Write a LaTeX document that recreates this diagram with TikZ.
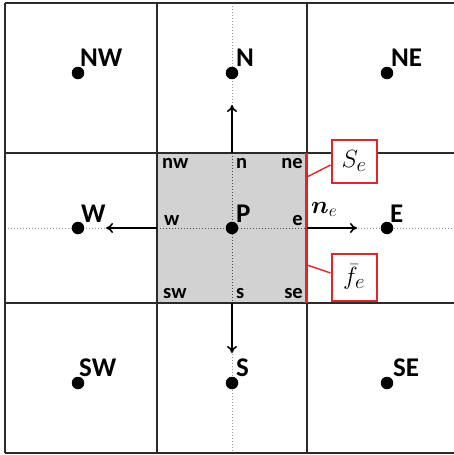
\documentclass[tikz,border=0pt]{standalone}
\usepackage{amsmath}
\usepackage{fontspec}
\setmainfont{Carlito}
\usetikzlibrary{arrows.meta}
\definecolor{gridc}{HTML}{2A2A2A}
\definecolor{cellgray}{HTML}{D2D2D2}
\definecolor{redc}{HTML}{E0262A}
\tikzset{
  gridline/.style={line width=2.3pt, draw=gridc},
  centreline/.style={line width=1pt, draw=gray!85, dotted},
  innerline/.style={line width=1pt, draw=black!70, dotted},
  nodedot/.style={circle, fill=black, inner sep=0pt, minimum size=12.5pt},
  biglabel/.style={font=\fontsize{27}{29}\selectfont\bfseries, inner sep=0pt, anchor=base west},
  smalllabel/.style={font=\fontsize{20.5}{22}\selectfont\bfseries, inner sep=0pt},
  vecarrow/.style={line width=1.6pt, -{To[length=7pt,width=10pt]}},
  redbox/.style={draw=redc, line width=2pt, fill=white, minimum width=45pt, inner sep=0pt},
  redlink/.style={draw=redc, line width=1.4pt},
}
\begin{document}
\begin{tikzpicture}[x=1pt,y=-1pt]
\useasboundingbox (0,0) rectangle (454,455);
% shaded control volume
\fill[cellgray] (157,153) rectangle (307,303);
% dotted centre lines
\draw[centreline] (232,3) -- (232,153);
\draw[centreline] (232,303) -- (232,453);
\draw[centreline] (5,228) -- (157,228);
\draw[centreline] (307,228) -- (454,228);
\draw[innerline] (232,153) -- (232,303);
\draw[innerline] (157,228) -- (307,228);
% grid
\draw[gridline] (5,3) -- (454,3);
\draw[gridline] (5,453) -- (454,453);
\draw[gridline] (5,3) -- (5,453);
\draw[gridline] (5,153) -- (454,153);
\draw[gridline] (5,303) -- (454,303);
\draw[gridline] (157,3) -- (157,453);
\draw[gridline] (307,3) -- (307,453);
% east face (red)
\draw[draw=redc, line width=3pt] (306,153) -- (306,303);
% node dots
\node[nodedot] (NW) at (78,73) {};
\node[nodedot] (N) at (232,73) {};
\node[nodedot] (NE) at (387,73) {};
\node[nodedot] (W) at (78,228) {};
\node[nodedot] (P) at (232,228) {};
\node[nodedot] (E) at (387,228) {};
\node[nodedot] (SW) at (78,383) {};
\node[nodedot] (S) at (232,383) {};
\node[nodedot] (SE) at (387,383) {};
% big labels
\node[biglabel] (lNW) at (80,66) {NW};
\node[biglabel] (lN) at (236,66) {N};
\node[biglabel] (lNE) at (391,66) {NE};
\node[biglabel] (lW) at (81,222) {W};
\node[biglabel] (lP) at (236,222) {P};
\node[biglabel] (lE) at (390,222) {E};
\node[biglabel] (lSW) at (79,376) {SW};
\node[biglabel] (lS) at (236,376) {S};
\node[biglabel] (lSE) at (393,376) {SE};
% face labels
\node[smalllabel, anchor=base west] (lnw) at (162,168) {nw};
\node[smalllabel, anchor=base west] (ln) at (236,168) {n};
\node[smalllabel, anchor=base east] (lne) at (303,168) {ne};
\node[smalllabel, anchor=base west] (lw) at (164,225) {w};
\node[smalllabel, anchor=base east] (le) at (303,225) {e};
\node[smalllabel, anchor=base west] (lsw) at (163,298) {sw};
\node[smalllabel, anchor=base west] (ls) at (236,298) {s};
\node[smalllabel, anchor=base east] (lse) at (303,298) {se};
% arrows on faces
\coordinate (fn) at (232,153);
\coordinate (fs) at (232,303);
\coordinate (fw) at (157,228);
\coordinate (fe) at (307,228);
\coordinate (tn) at (232,105);
\coordinate (ts) at (232,353);
\coordinate (tw) at (106,228);
\coordinate (te) at (357,228);
\draw[vecarrow] (fn) -- (tn);
\draw[vecarrow] (fs) -- (ts);
\draw[vecarrow] (fw) -- (tw);
\draw[vecarrow] (fe) -- (te);
\node[inner sep=0pt, anchor=base west, font=\fontsize{27}{29}\selectfont] (lne2) at (311,213) {$\boldsymbol{n}_e$};
% red boxes
\node[redbox, minimum height=43pt, font=\fontsize{29}{31}\selectfont] (Se) at (354,161) {$S_e$};
\node[redbox, minimum height=47pt, font=\fontsize{29}{31}\selectfont] (Fe) at (354,277) {$\bar{f}_e$};
\coordinate (sa) at (307,177);
\coordinate (fa) at (307,265);
\draw[redlink] ([yshift=-4pt]Se.west) -- (sa);
\draw[redlink] ([yshift=4pt]Fe.west) -- (fa);
\end{tikzpicture}
\end{document}
